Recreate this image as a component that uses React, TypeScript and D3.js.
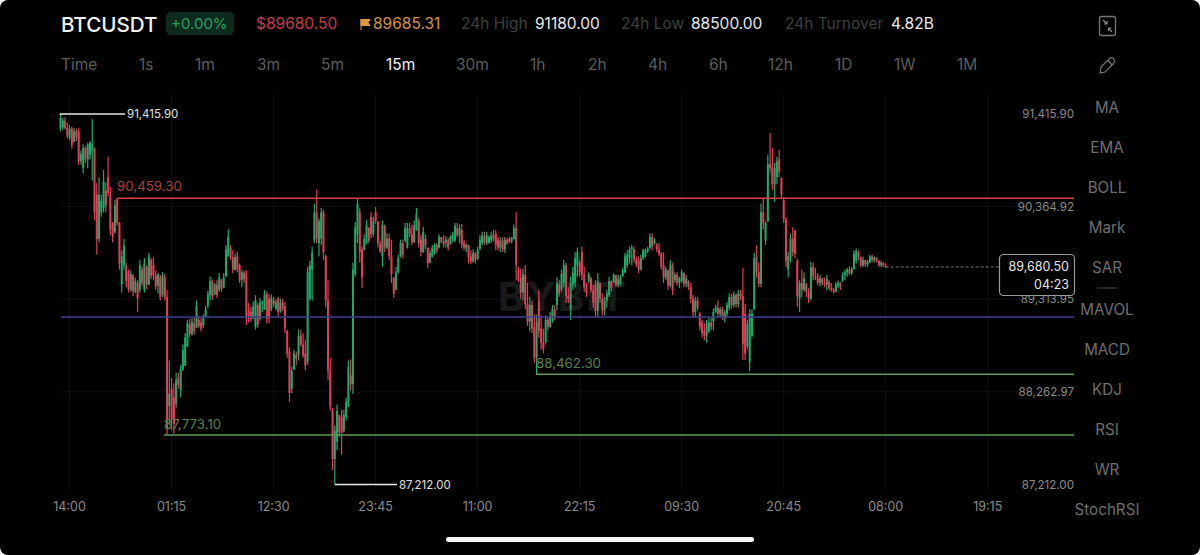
import React from "react";
import * as d3 from "d3";

// open, high, low, close of each 15m candle
const session1 = [
[91250,91416,91220,91370],[91260,91370,91235,91340],[91340,91380,91240,91260],[91260,91320,91140,91170],[91150,91290,91120,91250],[91250,91270,91020,91060],[91100,91260,91100,91220],[91220,91250,91110,91150],[91220,91260,90840,90880],[90880,91000,90840,90960],
[90800,91070,90740,91030],[91030,91050,90860,90900],[90900,91090,90800,91070],[90950,91110,90900,91090],[91000,91360,90660,91080],[91020,91040,90210,90300],[90500,90630,89820,90000],[90000,90700,89960,90500],[90300,90500,90250,90430],[90350,90780,90300,90650],
[90550,90640,90300,90380],[90700,90930,90480,90520],[90500,90590,90040,90100],[90180,90190,89960,90020],[90080,90440,90060,90380],[90450,90460,90150,90180],[90180,90190,89650,89720],[89480,89870,89390,89800],[89700,90000,89650,89920],[89700,89730,89450,89520],
[89630,89650,89390,89430],[89420,89640,89400,89600],[89580,89600,89350,89400],[89400,89560,89380,89520],[89500,89530,89170,89320],[89420,89760,89390,89700],[89650,89680,89470,89500],[89420,89780,89390,89720],[89680,89700,89430,89480],[89480,89840,89480,89800],
[89760,89780,89540,89580],[89700,89790,89530,89580],[89580,89640,89420,89460],[89470,89610,89380,89600],[89560,89590,89300,89340],[89360,89620,89340,89580],[89560,89600,89300,89330],
];
const session2 = [
[89340,89420,87773,87850],[88100,88620,87890,88240],[88300,88420,87830,87950],[88200,88360,87790,87900],[88130,88480,88080,88400],[88430,88480,88300,88340],[88280,88570,88200,88520],[88520,88800,88500,88740],[88560,88930,88560,88880],[88780,89080,88770,89040],
[89030,89090,88880,88920],[88920,89100,88900,89060],[89040,89100,88910,88950],[88990,89300,88990,89240],[89080,89120,88990,89010],[89050,89100,88950,88980],[89020,89140,88990,89100],[89110,89240,89100,89200],[89240,89410,89210,89370],[89360,89570,89300,89520],
[89520,89540,89310,89350],[89370,89500,89360,89480],[89480,89530,89330,89360],[89420,89610,89400,89560],[89540,89540,89400,89430],[89450,89610,89440,89560],[89570,89930,89570,89880],[89800,90110,89800,90020],[89900,89930,89760,89790],[89790,89870,89610,89650],
[89650,89830,89640,89790],[89800,89850,89620,89650],[89700,89720,89500,89530],[89530,89650,89450,89620],[89620,89640,89500,89540],[89600,89640,89020,89100],[89200,89270,89050,89090],[89170,89230,89060,89090],[89100,89290,89090,89230],[89000,89360,88970,89300],
[89250,89270,88990,89030],[89090,89330,89070,89280],[89280,89300,89170,89290],[89200,89420,89190,89370],[89370,89400,89040,89090],[89320,89370,89040,89100],[89200,89370,89180,89330],[89300,89340,89230,89260],[89210,89310,89190,89280],[89320,89340,89110,89170],
[89180,89320,89160,89280],[89280,89320,89180,89210],[89230,89280,88930,88980],[88950,88970,88650,88700],[88720,88770,88150,88250],[88300,88550,88250,88500],[88520,88740,88510,88700],[88680,88720,88570,88640],[88680,88970,88620,88900],[88900,88970,88780,88800],
[88800,88930,88650,88680],[88700,88850,88510,88560],[88600,89680,88570,89620],[89320,89750,89300,89700],[89650,89910,89300,89840],[89980,90400,89950,90300],[90300,90560,89950,90000],[89950,90230,89800,90200],[90000,90350,89930,90300],[90300,90330,89760,89850],
[89800,89820,89220,89300],[89300,89530,88400,88500],[88500,88650,88050,88100],[88060,88080,87376,87500],[87500,87880,87212,87820],[87700,88120,87600,88050],[88000,88000,87750,87800],[87980,88060,87550,87800],[87820,88060,87800,88000],[87980,88200,87940,88150],
[88100,88620,88090,88550],[88450,88630,88280,88350],[88350,89730,88240,89650],[89600,90190,89570,90130],[90050,90460,89950,90400],[90300,90350,89730,89850],[89880,89910,89440,89560],
];
const session3 = [
[89870,90050,89870,90000],[89950,90210,89940,90150],[90120,90135,89950,89980],[90250,90300,90010,90050],[90050,90250,90020,90200],[90300,90360,90170,90200],[90200,90200,89900,89950],[89950,89980,89840,89860],[89800,90210,89680,90150],[90150,90160,89850,89900],
[89900,90060,89880,90000],[90000,90060,89760,89800],[89800,89990,89500,89600],[89550,89570,89330,89380],[89420,89680,89420,89620],[89620,89820,89610,89780],[89800,89990,89790,89950],[89950,89990,89780,89820],[89980,90180,89960,90120],[89900,90180,89890,90120],
[90120,90180,90020,90050],[90050,90160,89930,89960],[89960,90210,89950,90150],[90100,90350,90090,90280],[90200,90240,89900,89950],[89990,90050,89800,89850],[89850,90135,89840,90080],[90000,90050,89880,89920],[89900,89900,89670,89720],[89730,89870,89720,89840],
[89800,89930,89790,89900],[89850,89950,89820,89930],[89930,89950,89840,89870],[89900,90050,89890,90020],[90020,90020,89950,89970],[89970,90040,89900,89940],[89960,90030,89900,89990],[89980,90010,89870,89900],[89940,90040,89930,90020],[89990,90080,89960,90050],
[89980,90180,89960,90150],[90120,90180,90020,90040],[90040,90160,89950,90120],[90100,90170,89890,89940],[89960,89990,89870,89900],[89890,89950,89850,89930],[89930,89930,89720,89780],[89800,89870,89710,89740],[89740,89880,89730,89840],[89830,89850,89720,89760],
[89770,89910,89760,89880],[89890,90040,89870,89990],[89950,90080,89930,90040],[90030,90080,89930,89960],[89950,90080,89930,90040],[89950,90040,89950,90020],[89980,90080,89950,90040],[90040,90100,89970,90000],[90060,90100,89870,89930],[89990,90020,89870,89900],
[89900,90020,89850,89980],[89980,90020,89850,89880],[89880,90020,89840,89990],[89990,90010,89930,89950],[90000,90020,89950,89970],[89970,90020,89950,90010],[90000,90160,89990,90120],
];
const session4 = [
[90120,90300,89530,89700],[89650,89680,89510,89540],[89560,89660,89320,89390],[89390,89660,89300,89600],[89590,89700,89200,89260],[89260,89500,89010,89060],[89060,89340,88950,89250],[89250,89300,88930,88980],[89000,89140,88590,88650],[88650,89140,88462,89050],
[89300,89420,88880,88950],[88980,89130,88740,88820],[88820,88980,88700,88750],[88830,89130,88810,89080],[89080,89110,88960,89000],[89000,89170,88990,89120],[89100,89250,89050,89200],[89200,89250,89080,89120],[89250,89570,89190,89500],[89480,89530,89340,89380],
[89430,89650,89400,89600],[89500,89760,89450,89700],[89700,89730,89270,89350],[89350,89450,89270,89320],[89200,89570,89080,89500],[89480,89680,89420,89620],[89500,89850,89450,89780],[89700,89900,89570,89850],[89730,89760,89570,89620],[89850,89910,89530,89590],
[89590,89680,89400,89450],[89450,89500,89340,89380],[89520,89620,89500,89600],[89550,89570,89390,89420],[89420,89480,89220,89280],[89480,89530,89110,89180],[89180,89610,89110,89520],[89500,89500,89270,89320],[89320,89380,89130,89190],[89190,89340,89130,89300],
[89300,89420,89220,89380],[89360,89570,89340,89520],[89520,89530,89400,89440],[89500,89610,89500,89590],[89590,89590,89450,89480],[89480,89590,89450,89540],[89500,89590,89470,89560],[89580,89670,89570,89640],[89620,89840,89610,89800],[89700,89870,89670,89820],
[89780,89910,89720,89880],[89880,89930,89700,89900],[89880,89910,89730,89760],[89760,89800,89680,89710],[89750,89800,89610,89650],[89650,89820,89640,89780],[89780,89890,89760,89870],[89800,89890,89790,89860],
];
const session5 = [
[89860,89910,89840,89890],[89890,90060,89890,90020],[90020,90060,89870,89910],[89950,90010,89930,89980],[89930,89950,89850,89880],[89880,89950,89800,89830],[89830,89850,89650,89690],[89700,89850,89500,89560],[89560,89680,89530,89650],[89640,89650,89420,89470],
[89470,89760,89450,89700],[89700,89730,89360,89420],[89530,89620,89500,89590],[89590,89620,89470,89500],[89500,89570,89440,89550],[89520,89650,89500,89620],[89610,89620,89450,89490],[89490,89590,89450,89550],[89520,89530,89420,89450],[89450,89500,89270,89320],
[89320,89360,89110,89170],[89170,89340,89110,89300],[89300,89340,89190,89220],[89150,89170,88960,89000],[89050,89080,88880,88930],[88950,89040,88850,88900],[88900,89080,88820,89040],[88950,89100,88930,89050],[89050,89100,88960,89000],[89060,89210,88960,89170],
[89170,89250,89160,89220],[89220,89300,89110,89150],[89150,89230,89110,89200],[89200,89230,89080,89120],[89090,89190,89050,89160],[89150,89280,89110,89250],[89220,89380,89190,89340],[89340,89380,89210,89250],[89250,89400,89220,89360],[89360,89380,89220,89260],
[89260,89420,89220,89380],[89380,89420,89300,89350],[89350,89670,88625,88800],
];
const session6 = [
[89150,89260,88625,88700],[88780,89080,88750,89030],[88600,89200,88500,89150],[88900,89200,88880,89150],[89200,89840,89190,89780],[89800,89930,89560,89620],[89620,89730,89450,89490],[89490,90400,89450,90300],[90300,90460,90110,90180],[89980,90200,89930,90180],
[90200,90950,90190,90850],[90850,91200,90750,90800],[90820,91030,90550,90620],[90620,90860,90420,90800],[90700,90930,90620,90880],[90900,91010,90700,90760],[90690,90700,90460,90500],[90440,90470,90180,90220],[90220,90250,89680,89750],[89650,89850,89560,89800],
[89780,90060,89730,90000],[90000,90130,89800,89850],[90100,90100,89780,89830],[89750,89770,89230,89350],[89320,89530,89170,89500],[89500,89650,89340,89420],[89420,89620,89400,89550],[89480,89500,89340,89400],[89400,89440,89270,89320],[89320,89740,89300,89680],
[89680,89730,89530,89580],[89580,89670,89530,89560],[89560,89610,89470,89500],[89500,89590,89460,89550],[89550,89560,89470,89490],[89490,89560,89450,89480],[89480,89590,89420,89550],[89510,89530,89420,89440],[89440,89500,89400,89420],[89420,89440,89380,89400],
[89400,89510,89390,89480],[89470,89530,89440,89500],[89500,89510,89420,89450],[89530,89620,89510,89590],[89590,89650,89530,89620],[89620,89670,89570,89650],[89650,89690,89590,89610],[89610,89680,89590,89660],[89660,89870,89650,89830],[89750,89890,89720,89860],
[89840,89870,89760,89790],[89790,89800,89680,89700],[89700,89800,89680,89760],[89760,89760,89680,89710],[89710,89760,89680,89740],[89730,89820,89730,89800],[89800,89820,89730,89760],[89760,89800,89730,89790],[89780,89790,89730,89750],[89750,89760,89680,89700],
[89700,89750,89680,89730],[89730,89730,89680,89700],[89700,89720,89670,89680],
];
const candles = [...session1, ...session2, ...session3, ...session4, ...session5, ...session6];

const timeLabels = ["14:00", "01:15", "12:30", "23:45", "11:00", "22:15", "09:30", "20:45", "08:00", "19:15"];
const timeSlots = [4, 49, 94, 139, 184, 229, 274, 319, 364, 409];
const axisPrices = [91415.9, 90364.92, 89313.95, 88262.97, 87212.0];
const axisLabels = ["91,415.90", "90,364.92", "89,313.95", "88,262.97", "87,212.00"];
const intervals = ["Time", "1s", "1m", "3m", "5m", "15m", "30m", "1h", "2h", "4h", "6h", "12h", "1D", "1W", "1M"];
const intervalX = [61, 139, 195, 257, 321, 386, 456, 530, 588, 648, 709, 768, 835, 894, 957];
const indicators = ["MA", "EMA", "BOLL", "Mark", "SAR", "MAVOL", "MACD", "KDJ", "RSI", "WR", "StochRSI"];
const indicatorY = [113, 153, 193, 233, 273, 315, 355, 395, 435, 475, 515];

const HIGH = 91415.9, LOW = 87212.0, LEVEL_RED = 90459.3, LEVEL_GREEN_A = 88462.3, LEVEL_GREEN_B = 87773.1, LEVEL_BLUE = 89113, LAST = 89680.5;

const x = d3.scaleLinear().domain([0, 364]).range([60.5, 885.7]);
const y = d3.scaleLinear().domain([LOW, HIGH]).range([484.5, 114]);

const FONT = "Inter, 'Noto Sans', sans-serif";
const UP = "#22a96a";
const DOWN = "#e03f58";

export default function App() {
  const left = 61, right = 1074;
  return (
    <svg width={1200} height={555} viewBox="0 0 1200 555" style={{ position: "fixed", left: 0, top: 0, display: "block" }} fontFamily={FONT}>
      <rect width={1200} height={555} fill="#fff" />
      <rect width={1200} height={555} rx={8} fill="#000" />

      {/* grid */}
      {timeSlots.map((s) => (
        <line key={s} x1={x(s)} x2={x(s)} y1={95} y2={490} stroke="#101010" />
      ))}
      {axisPrices.slice(1, 4).map((p) => (
        <line key={p} x1={left} x2={right} y1={y(p)} y2={y(p)} stroke="#101010" />
      ))}
      <text x={563} y={311} textAnchor="middle" fontSize={40} fontWeight={700} fill="#191919" letterSpacing={2}>BYBIT</text>

      {/* candles */}
      {candles.map(([o, h, l, c], i) => {
        const col = c >= o ? UP : DOWN;
        const top = y(Math.max(o, c));
        const bot = y(Math.min(o, c));
        return (
          <g key={i} stroke="none" fill={col}>
            <rect x={x(i) - 0.6} width={1.2} y={y(h)} height={Math.max(1, y(l) - y(h))} />
            <rect x={x(i) - 1} width={2} y={top} height={Math.max(1, bot - top)} />
          </g>
        );
      })}

      {/* level lines */}
      <line x1={x(0) - 1} x2={125} y1={y(HIGH)} y2={y(HIGH)} stroke="#e6e6e6" strokeWidth={1.5} />
      <text x={127} y={y(HIGH) + 4} fontSize={11.5} fill="#e0e0e0">91,415.90</text>
      <line x1={117} x2={right} y1={y(LEVEL_RED)} y2={y(LEVEL_RED)} stroke="#d8433f" strokeWidth={1.5} />
      <text x={117} y={191} fontSize={13.3} fill="#a8423c">90,459.30</text>
      <line x1={left} x2={right} y1={y(LEVEL_BLUE)} y2={y(LEVEL_BLUE)} stroke="#3b3f98" strokeWidth={1.5} />
      <line x1={536} x2={right} y1={y(LEVEL_GREEN_A)} y2={y(LEVEL_GREEN_A)} stroke="#5c9a58" strokeWidth={1.5} />
      <text x={536} y={368} fontSize={13.3} fill="#55844f">88,462.30</text>
      <line x1={164} x2={right} y1={y(LEVEL_GREEN_B)} y2={y(LEVEL_GREEN_B)} stroke="#5c9a58" strokeWidth={1.5} />
      <text x={164} y={429} fontSize={13.3} fill="#55844f">87,773.10</text>
      <line x1={x(121)} x2={397} y1={y(LOW)} y2={y(LOW)} stroke="#e6e6e6" strokeWidth={1.5} />
      <text x={399} y={y(LOW) + 4} fontSize={11.5} fill="#e0e0e0">87,212.00</text>

      {/* price axis */}
      {axisLabels.map((t, i) => (
        <text key={t} x={1074} y={y(axisPrices[i]) + 4} textAnchor="end" fontSize={11.6} fill="#8a8a8a">{t}</text>
      ))}

      {/* last price */}
      <line x1={x(364)} x2={999} y1={y(LAST)} y2={y(LAST)} stroke="#777" strokeDasharray="3 2" />
      <rect x={999.5} y={254.5} width={75} height={41} rx={4} fill="#000" stroke="#999" strokeWidth={1.2} />
      <text x={1069} y={271} textAnchor="end" fontSize={12.5} fill="#e6e6e6">89,680.50</text>
      <text x={1069} y={289} textAnchor="end" fontSize={12.5} fill="#e6e6e6">04:23</text>

      {/* time axis */}
      {timeLabels.map((t, i) => (
        <text key={t} x={x(timeSlots[i])} y={511} textAnchor="middle" fontSize={12.5} fill="#8a8a8a">{t}</text>
      ))}

      {/* header */}
      <text x={61} y={32} fontSize={20.6} fontWeight={500} fill="#f2f2f2">BTCUSDT</text>
      <rect x={166} y={12} width={68} height={23} rx={5} fill="#0c2a1d" />
      <text x={171} y={29} fontSize={15} fill="#27a05f">+0.00%</text>
      <text x={256} y={29} fontSize={15.5} fill="#c43d4c">$89680.50</text>
      <path d="M361 19 V30 M361 19.5 H370 L368 22.5 L370 25.5 H361 Z" fill="#e09a3e" stroke="#e09a3e" strokeWidth={1} />
      <text x={373} y={29} fontSize={15.5} fill="#d2924a">89685.31</text>
      <text x={461} y={29} fontSize={15.5} fill="#3f3f3f">24h High</text>
      <text x={535} y={29} fontSize={15.5} fill="#eaeaea">91180.00</text>
      <text x={621} y={29} fontSize={15.5} fill="#3f3f3f">24h Low</text>
      <text x={691} y={29} fontSize={15.5} fill="#eaeaea">88500.00</text>
      <text x={785} y={29} fontSize={15.5} fill="#3f3f3f">24h Turnover</text>
      <text x={891} y={29} fontSize={15.5} fill="#eaeaea">4.82B</text>

      {intervals.map((t, i) => (
        <text key={t} x={intervalX[i]} y={70} fontSize={15.5} fill={t === "15m" ? "#f0f0f0" : "#5c5c5c"}>{t}</text>
      ))}

      {/* tool icons */}
      <rect x={1099.5} y={16.5} width={16} height={19} rx={2} fill="none" stroke="#777" strokeWidth={1.3} />
      <path d="M1103 20 L1107 24 M1107 21 V24 H1104 M1112 32 L1108.5 28 M1108.5 31 V28 H1111.5" fill="none" stroke="#888" strokeWidth={1.2} />
      <path d="M1100 73 L1101 67 L1110 58 Q1112 57 1114 59 Q1115.5 61 1114 63 L1105 72 Z M1108 60.5 L1112 65" fill="none" stroke="#777" strokeWidth={1.2} />

      {/* indicator menu */}
      {indicators.map((t, i) => (
        <text key={t} x={1107} y={indicatorY[i]} textAnchor="middle" fontSize={15.2} fill="#6e6e6e">{t}</text>
      ))}
      <line x1={1097} x2={1117} y1={288} y2={288} stroke="#444" />

      <rect x={446} y={537} width={308} height={5} rx={2.5} fill="#f5f5f5" />
    </svg>
  );
}
